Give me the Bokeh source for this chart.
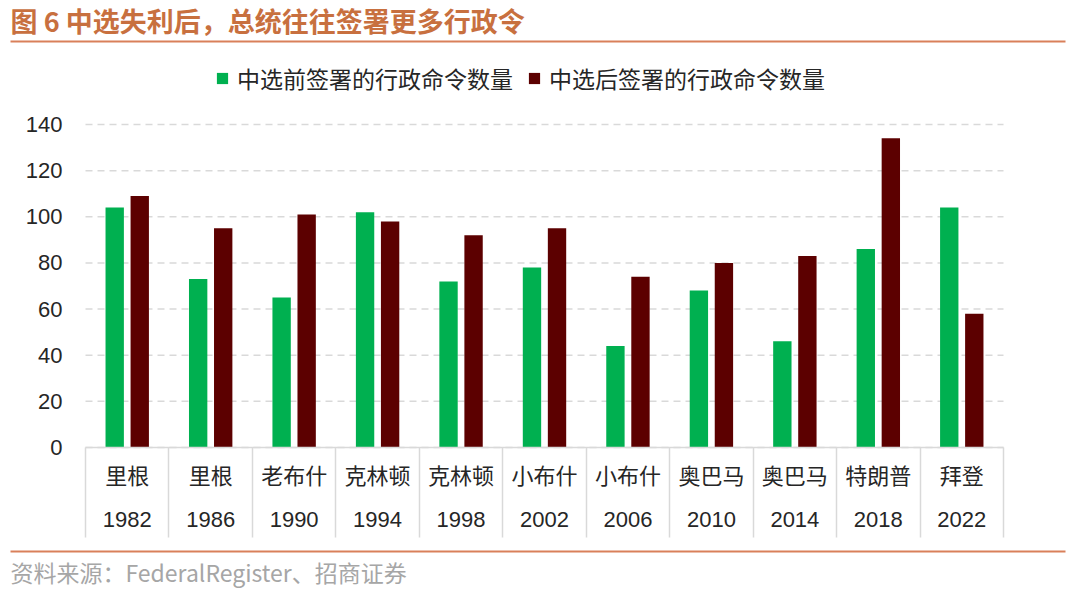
from bokeh.plotting import figure
from bokeh.models import (ColumnDataSource, LinearAxis, FixedTicker, Legend, LegendItem,
                          Range1d, Label, BoxAnnotation)
from bokeh.transform import dodge
from bokeh.embed import file_html
from bokeh.resources import INLINE

## Données

title_text = "图 6 中选失利后，总统往往签署更多行政令"
source_text = "资料来源：FederalRegister、招商证券"

years = ["1982", "1986", "1990", "1994", "1998", "2002", "2006", "2010", "2014", "2018", "2022"]
names = ["里根", "里根", "老布什", "克林顿", "克林顿", "小布什", "小布什", "奥巴马", "奥巴马", "特朗普", "拜登"]
before = [104, 73, 65, 102, 72, 78, 44, 68, 46, 86, 104]
after = [109, 95, 101, 98, 92, 95, 74, 80, 83, 134, 58]
series_labels = ["中选前签署的行政命令数量", "中选后签署的行政命令数量"]
y_ticks = [0, 20, 40, 60, 80, 100, 120, 140]

## Styles

W, H = 1072, 589
CJK = "Noto Sans CJK SC"
LAT = "Liberation Sans"
GREEN = "#00B050"
DARKRED = "#5C0000"
ORANGE = "#C8703F"
RULE = "#D9805A"
LIGHT = "#D9D9D9"
TXT = "#262626"

# zone des barres en pixels (gauche, droite, haut = 140, bas = 0)
PX_L, PX_R, PX_T, PX_B = 85, 1003, 124, 447
n = len(years)
ymax = y_ticks[-1]

# le cadre couvre tout le canevas : on étend les plages en conséquence
ux = (PX_R - PX_L) / n
uy = (PX_B - PX_T) / ymax
x_range = Range1d(-PX_L / ux, n + (W - PX_R) / ux)
y_range = Range1d(-(H - PX_B) / uy, ymax + PX_T / uy)

centers = [i + 0.5 for i in range(n)]
src = ColumnDataSource(dict(x=centers, year=years, name=names, before=before, after=after))

p = figure(width=W, height=H, x_range=x_range, y_range=y_range,
           x_axis_location=None, y_axis_location=None,
           output_backend="svg", toolbar_location=None,
           min_border=0, min_border_left=0, min_border_right=0,
           min_border_top=0, min_border_bottom=0,
           outline_line_color=None)
p.grid.visible = False

# lignes de grille pointillées
grid = p.segment(x0=[0] * len(y_ticks), x1=[n] * len(y_ticks), y0=y_ticks, y1=y_ticks,
                 line_color=LIGHT, line_dash="7 5", line_width=1.5)
grid.level = "underlay"

r1 = p.vbar(x=dodge("x", -0.15), top="before", width=0.22,
            source=src, fill_color=GREEN, line_color=None)
r2 = p.vbar(x=dodge("x", 0.15), top="after", width=0.22,
            source=src, fill_color=DARKRED, line_color=None)

# axe y
yax = LinearAxis(ticker=FixedTicker(ticks=y_ticks), fixed_location=0,
                 axis_line_color=None, major_tick_line_color=None,
                 minor_tick_line_color=None, major_label_text_font=LAT,
                 major_label_text_font_size="22px", major_label_text_color=TXT,
                 major_label_standoff=17)
p.add_layout(yax, "left")

# axe x : noms des présidents
name_axis = LinearAxis(ticker=FixedTicker(ticks=centers), fixed_location=0, bounds=(0, n),
                       major_label_overrides=dict(zip(centers, names)),
                       major_label_text_font=CJK, major_label_text_font_size="22px",
                       major_label_text_color=TXT, axis_line_color=LIGHT,
                       axis_line_width=1.5, major_tick_line_color=None,
                       minor_tick_line_color=None, major_label_standoff=4)
p.add_layout(name_axis, "below")

# axe x : années
year_axis = LinearAxis(ticker=FixedTicker(ticks=centers), fixed_location=0,
                       major_label_overrides=dict(zip(centers, years)),
                       major_label_text_font=LAT, major_label_text_font_size="22px",
                       major_label_text_color=TXT, axis_line_color=None,
                       major_tick_line_color=None, minor_tick_line_color=None,
                       major_label_standoff=58)
p.add_layout(year_axis, "below")

# séparateurs verticaux entre catégories
sep_axis = LinearAxis(ticker=FixedTicker(ticks=list(range(n + 1))), fixed_location=0,
                      major_label_text_color=None, axis_line_color=None,
                      major_tick_in=0, major_tick_out=90, major_tick_line_color=LIGHT,
                      major_tick_line_width=1.5, minor_tick_line_color=None)
p.add_layout(sep_axis, "below")

# légende
legend = Legend(items=[LegendItem(label=series_labels[0], renderers=[r1]),
                       LegendItem(label=series_labels[1], renderers=[r2])],
                orientation="horizontal", location=(215, H - 95),
                label_text_font=CJK, label_text_font_size="23px", label_text_color=TXT,
                glyph_width=14, glyph_height=14, label_standoff=8, spacing=14,
                padding=0, margin=0, border_line_color=None, background_fill_alpha=0)
p.add_layout(legend, "center")

### Titre, filets et source (unités écran, depuis le bas à gauche)

p.add_layout(Label(x=10, y=H - 20, x_units="screen", y_units="screen",
                   text=title_text, text_font=CJK, text_font_style="bold",
                   text_font_size="27px", text_color=ORANGE, text_baseline="middle"))
for y_rule in (41, 551):
    p.add_layout(BoxAnnotation(left=10, right=1065, bottom=H - y_rule - 1, top=H - y_rule + 1,
                               left_units="screen", right_units="screen",
                               bottom_units="screen", top_units="screen",
                               fill_color=RULE, fill_alpha=1, line_color=None))
p.add_layout(Label(x=10, y=H - 571, x_units="screen", y_units="screen",
                   text=source_text, text_font=CJK, text_font_size="23px",
                   text_color="#A6A6A6", text_baseline="middle"))

open("out.html", "w").write(file_html(p, INLINE))
